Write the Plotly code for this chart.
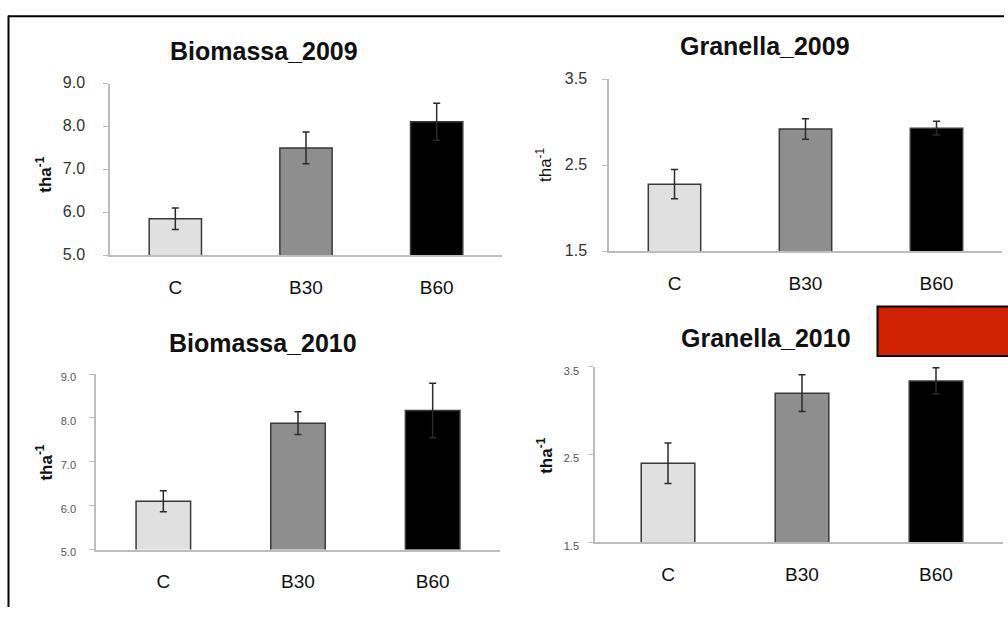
import plotly.graph_objects as go

# ---------------- data ----------------
categories = ["C", "B30", "B60"]

biomassa_2009 = [5.85, 7.50, 8.11]
biomassa_2009_err = [0.25, 0.37, 0.43]

granella_2009 = [2.28, 2.92, 2.93]
granella_2009_err = [0.17, 0.12, 0.08]

biomassa_2010 = [6.10, 7.88, 8.17]
biomassa_2010_err = [0.24, 0.26, 0.62]

granella_2010 = [2.40, 3.20, 3.34]
granella_2010_err = [0.23, 0.21, 0.15]

titles = ["Biomassa_2009", "Granella_2009", "Biomassa_2010", "Granella_2010"]
biomassa_ticks = [5.0, 6.0, 7.0, 8.0, 9.0]
granella_ticks = [1.5, 2.5, 3.5]
y_title = "tha<sup>-1</sup>"

# ---------------- styling ----------------
W, H = 1008, 617
FONT = "Liberation Sans"
bar_colors = ["#E0E0E0", "#8E8E8E", "#000000"]


def fx(px):
    return px / W


def fy(py):
    return 1 - py / H


panels = [
    dict(vals=biomassa_2009, err=biomassa_2009_err, ticks=biomassa_ticks,
         xd=(110, 502), yd=(77, 254), xr=[-0.5, 2.5], width=0.40,
         tick_size=16, tick_color="#333333", standoff=15, shift=-1,
         title_xy=(264, 43), ytitle_xy=(44, 171), ytitle_bold=True, ytitle_size=17),
    dict(vals=granella_2009, err=granella_2009_err, ticks=granella_ticks,
         xd=(609, 1002), yd=(72.3, 250), xr=[-0.5, 2.5], width=0.40,
         tick_size=16, tick_color="#333333", standoff=12, shift=-1,
         title_xy=(765, 38), ytitle_xy=(544, 161), ytitle_bold=False, ytitle_size=17),
    dict(vals=biomassa_2010, err=biomassa_2010_err, ticks=biomassa_ticks,
         xd=(96, 500), yd=(376.7, 557.7), xr=[-0.5, 2.5], width=0.405,
         tick_size=11, tick_color="#555555", standoff=11, shift=3,
         title_xy=(263, 345), ytitle_xy=(44, 468), ytitle_bold=True, ytitle_size=17),
    dict(vals=granella_2010, err=granella_2010_err, ticks=granella_ticks,
         xd=(595, 1003), yd=(369.3, 550), xr=[-0.545, 2.5], width=0.40,
         tick_size=11, tick_color="#555555", standoff=7, shift=4,
         title_xy=(766, 339), ytitle_xy=(545, 461), ytitle_bold=True, ytitle_size=17),
]

fig = go.Figure()
annotations = []
layout_axes = {}

for i, (p, title) in enumerate(zip(panels, titles), start=1):
    sfx = "" if i == 1 else str(i)
    fig.add_trace(go.Bar(
        x=categories, y=p["vals"],
        width=p["width"],
        marker=dict(color=bar_colors, line=dict(color="#3a3a3a", width=1.5)),
        error_y=dict(type="data", array=p["err"], visible=True,
                     color="#2a2a2a", thickness=1.5, width=3.5),
        xaxis="x" + sfx, yaxis="y" + sfx, showlegend=False,
    ))
    layout_axes["xaxis" + sfx] = dict(
        domain=[fx(p["xd"][0]), fx(p["xd"][1])],
        range=p["xr"], anchor="y" + sfx,
        showline=True, linecolor="#BDBDBD", linewidth=1.5,
        ticks="", showgrid=False, zeroline=False,
        tickfont=dict(family=FONT, size=19, color="#111111"),
        ticklabelstandoff=14,
        fixedrange=True,
    )
    lo, hi = p["ticks"][0], p["ticks"][-1]
    layout_axes["yaxis" + sfx] = dict(
        domain=[fy(p["yd"][1]), fy(p["yd"][0])],
        range=[lo, hi], anchor="x" + sfx,
        tickvals=p["ticks"], tickformat=".1f",
        showline=True, linecolor="#BDBDBD", linewidth=1.5,
        ticks="outside", ticklen=5, tickcolor="#BDBDBD", tickwidth=1.2,
        showgrid=False, zeroline=False,
        tickfont=dict(family=FONT, size=p["tick_size"], color=p["tick_color"]),
        ticklabelstandoff=p["standoff"], ticklabelshift=p["shift"],
        fixedrange=True,
    )
    tx, ty = p["title_xy"]
    annotations.append(dict(
        text="<b>" + title + "</b>", x=fx(tx), y=fy(ty), xref="paper", yref="paper",
        xanchor="center", yanchor="middle", showarrow=False,
        font=dict(family=FONT, size=25, color="#111111"),
    ))
    ax, ay = p["ytitle_xy"]
    yt = "<b>" + y_title + "</b>" if p["ytitle_bold"] else y_title
    annotations.append(dict(
        text=yt, x=fx(ax), y=fy(ay), xref="paper", yref="paper",
        xanchor="center", yanchor="middle", showarrow=False, textangle=-90,
        font=dict(family=FONT, size=p["ytitle_size"], color="#111111"),
    ))

shapes = [
    # outer frame (top and left edges)
    dict(type="line", xref="paper", yref="paper", x0=fx(8), x1=fx(1004), y0=fy(7.5), y1=fy(7.5),
         line=dict(color="#000000", width=2)),
    dict(type="line", xref="paper", yref="paper", x0=fx(8.5), x1=fx(8.5), y0=fy(7), y1=fy(617),
         line=dict(color="#000000", width=2)),
    # red box
    dict(type="rect", xref="paper", yref="paper", x0=fx(877.5), x1=fx(1010), y0=fy(358), y1=fy(307),
         fillcolor="#D22204", line=dict(color="#000000", width=2)),
]

fig.update_layout(
    width=W, height=H,
    margin=dict(l=0, r=0, t=0, b=0),
    paper_bgcolor="white", plot_bgcolor="white",
    annotations=annotations, shapes=shapes,
    bargap=0.6,
    **layout_axes,
)

page_fix = "document.body.style.margin='0';document.body.style.overflow='hidden';"
fig.write_html("out.html", post_script=page_fix, config={"displayModeBar": False})
